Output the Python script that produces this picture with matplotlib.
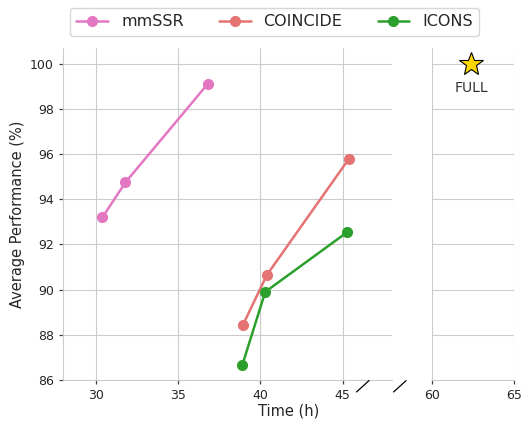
import numpy as np
import matplotlib
matplotlib.use("Agg")
import seaborn as sns
from matplotlib import pyplot as plt

# values
mmssr_time = [30.4, 31.8, 36.8]
mmssr_perf = [93.2, 94.75, 99.1]
coincide_time = [38.95, 40.4, 45.4]
coincide_perf = [88.45, 90.65, 95.8]
icons_time = [38.9, 40.3, 45.3]
icons_perf = [86.65, 89.9, 92.55]
full_time = [62.4]
full_perf = [100.0]

sns.set_style("whitegrid")
plt.rcParams['font.family'] = ['DejaVu Sans']

fig = plt.figure(figsize=(5.22, 4.21), dpi=100)
ax = fig.add_axes([0.1207, 0.0974, 0.630, 0.789])
ax2 = fig.add_axes([0.8276, 0.0974, 0.157, 0.789])

c_pink = '#e377c2'
c_red = '#e57373'
c_green = '#2ca02c'

ax.plot(mmssr_time, mmssr_perf, '-o', color=c_pink, lw=1.8, ms=7, label='mmSSR')
ax.plot(coincide_time, coincide_perf, '-o', color=c_red, lw=1.8, ms=7, label='COINCIDE')
ax.plot(icons_time, icons_perf, '-o', color=c_green, lw=1.8, ms=7, label='ICONS')
ax2.plot(full_time, full_perf, marker='*', ms=18, color='#FFD700',
         markeredgecolor='black', markeredgewidth=0.8, ls='none')
ax2.text(full_time[0], full_perf[0] - 1.1, 'FULL', ha='center', va='center',
         fontsize=10, color='#333333')

ax.set_xlim(28, 48)
ax2.set_xlim(60, 65)
for a in (ax, ax2):
    a.set_ylim(86, 100.7)
    a.tick_params(axis='both', bottom=True, left=True, colors='#444444',
                  labelcolor='#262626', labelsize=9, length=3, width=0.9)
    a.spines['top'].set_visible(False)
    a.spines['right'].set_visible(False)
ax.set_xticks([30, 35, 40, 45])
ax2.set_xticks([60, 65])
ax.set_yticks(np.arange(86, 101, 2))
ax2.set_yticks(np.arange(86, 101, 2))
ax2.tick_params(axis='y', left=False, labelleft=False)
ax2.spines['left'].set_visible(False)

ax.set_ylabel('Average Performance (%)', fontsize=10.5, color='#262626')
fig.text(0.553, 0.024, 'Time (h)', ha='center', va='center', fontsize=10.5,
         color='#262626')

# break marks
for xc in (0.695, 0.766):
    fig.add_artist(plt.Line2D([xc - 0.012, xc + 0.012], [0.069, 0.096],
                              transform=fig.transFigure, color='black', lw=0.9))

fig.legend(loc='upper center', ncol=3, bbox_to_anchor=(0.526, 1.0),
           fontsize=11.5, frameon=True, edgecolor='#cccccc', columnspacing=2.2)

plt.savefig('out.png', dpi=100)
